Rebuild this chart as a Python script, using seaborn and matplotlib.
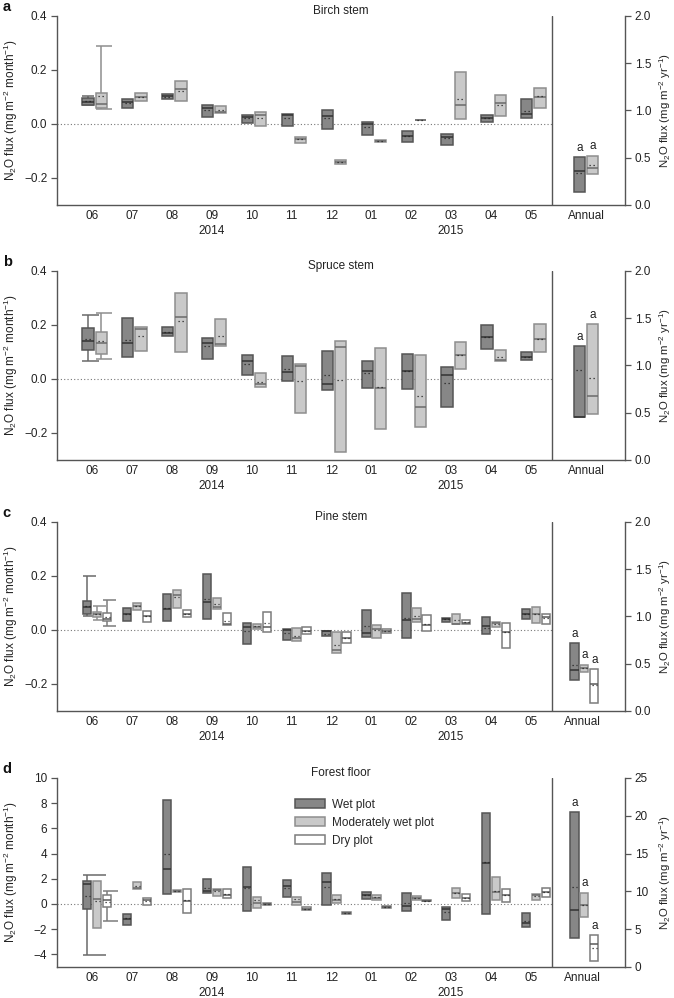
"""
Monthly and annual N2O fluxes from tree stems and forest floor
- boxes: interquartile range, solid line: median, dotted line: mean
"""

import numpy as np
import matplotlib
matplotlib.use("Agg")
import matplotlib.pyplot as plt
from matplotlib.patches import Patch
import seaborn as sns

# Labels
MONTHS = ["06", "07", "08", "09", "10", "11", "12", "01", "02", "03", "04", "05"]
YEARS = ["2014", "2015"]
YEAR_POS = [3, 9]
PLOTS = ["Wet plot", "Moderately wet plot", "Dry plot"]
TITLES = ["Birch stem", "Spruce stem", "Pine stem", "Forest floor"]
LETTERS = ["a", "b", "c", "d"]

# Monthly boxes per plot: (q1, q3, median, mean), mg m-2 month-1
birch_wet = [(0.070, 0.095, 0.080, 0.085), (0.058, 0.094, 0.083, 0.079), (0.091, 0.110, 0.102, 0.101),
             (0.025, 0.070, 0.060, 0.052), (0.002, 0.032, 0.025, 0.021), (-0.006, 0.038, 0.032, 0.021),
             (-0.017, 0.053, 0.028, 0.022), (-0.042, 0.006, -0.001, -0.012), (-0.065, -0.026, -0.044, -0.044),
             (-0.077, -0.037, -0.047, -0.052), (0.009, 0.033, 0.021, 0.021), (0.021, 0.091, 0.036, 0.049)]
birch_mod = [(0.058, 0.114, 0.075, 0.102), (0.086, 0.116, 0.099, 0.101), (0.084, 0.158, 0.131, 0.123),
             (0.042, 0.065, 0.046, 0.053), (-0.009, 0.043, 0.032, 0.023), (-0.070, -0.049, -0.057, -0.056),
             (-0.149, -0.132, -0.140, -0.140), (-0.068, -0.058, -0.062, -0.062), (0.013, 0.013, 0.013, 0.013),
             (0.020, 0.193, 0.069, 0.093), (0.030, 0.106, 0.077, 0.070), (0.059, 0.132, 0.101, 0.102)]

spruce_wet = [(0.106, 0.190, 0.140, 0.147), (0.083, 0.227, 0.135, 0.146), (0.159, 0.191, 0.170, 0.173),
              (0.075, 0.151, 0.133, 0.121), (0.014, 0.088, 0.068, 0.057), (-0.006, 0.086, 0.025, 0.036),
              (-0.041, 0.102, -0.019, 0.014), (-0.032, 0.067, 0.028, 0.022), (-0.037, 0.093, 0.030, 0.030),
              (-0.105, 0.043, 0.016, -0.015), (0.110, 0.199, 0.156, 0.156), (0.069, 0.099, 0.080, 0.080)]
spruce_mod = [(0.093, 0.173, 0.132, 0.140), (0.102, 0.191, 0.185, 0.158), (0.099, 0.317, 0.231, 0.215),
              (0.121, 0.221, 0.130, 0.158), (-0.028, 0.021, -0.020, -0.010), (-0.126, 0.056, 0.048, -0.007),
              (-0.272, 0.142, 0.119, -0.004), (-0.186, 0.115, -0.032, -0.030), (-0.177, 0.089, -0.104, -0.064),
              (0.036, 0.136, 0.089, 0.089), (0.065, 0.106, 0.072, 0.083), (0.099, 0.205, 0.149, 0.148)]

pine_wet = [(0.059, 0.106, 0.085, 0.090), (0.032, 0.080, 0.060, 0.059), (0.035, 0.132, 0.077, 0.083),
            (0.042, 0.206, 0.102, 0.116), (-0.051, 0.027, 0.010, -0.005), (-0.036, 0.002, 0.001, -0.011),
            (-0.023, -0.002, -0.005, -0.015), (-0.025, 0.074, -0.011, 0.014), (-0.031, 0.137, 0.036, 0.046),
            (0.031, 0.046, 0.040, 0.040), (-0.016, 0.047, 0.014, 0.006), (0.040, 0.077, 0.059, 0.059)]
pine_mod = [(0.047, 0.068, 0.059, 0.059), (0.073, 0.099, 0.090, 0.089), (0.080, 0.147, 0.130, 0.121),
            (0.078, 0.117, 0.086, 0.098), (0.005, 0.023, 0.011, 0.014), (-0.041, 0.006, -0.031, -0.021),
            (-0.085, -0.009, -0.074, -0.057), (-0.028, 0.017, 0.002, -0.001), (0.031, 0.080, 0.040, 0.053),
            (0.021, 0.060, 0.023, 0.036), (0.010, 0.031, 0.026, 0.022), (0.025, 0.084, 0.058, 0.058)]
pine_dry = [(0.033, 0.062, 0.042, 0.049), (0.030, 0.070, 0.051, 0.051), (0.049, 0.073, 0.060, 0.060),
            (0.017, 0.063, 0.022, 0.035), (-0.006, 0.065, 0.012, 0.025), (-0.016, 0.010, -0.002, -0.002),
            (-0.048, -0.009, -0.028, -0.028), (-0.011, 0.005, -0.004, -0.004), (-0.004, 0.056, 0.017, 0.023),
            (0.021, 0.036, 0.027, 0.028), (-0.068, 0.025, -0.006, -0.006), (0.023, 0.058, 0.047, 0.044)]

floor_wet = [(-0.37, 1.85, 1.59, 0.63), (-1.64, -0.82, -1.16, -1.11), (0.82, 8.23, 2.75, 3.94),
             (0.85, 1.96, 1.03, 1.27), (-0.58, 2.91, 1.32, 1.27), (0.58, 1.88, 1.43, 1.30),
             (-0.11, 2.43, 1.72, 1.35), (0.37, 0.95, 0.74, 0.74), (-0.58, 0.85, -0.19, 0.08),
             (-1.24, -0.24, -0.37, -0.61), (-0.79, 7.20, 3.25, 3.30), (-1.83, -0.74, -1.48, -1.38)]
floor_mod = [(-1.93, 1.85, 0.40, 0.26), (1.19, 1.75, 1.27, 1.40), (0.93, 1.08, 1.00, 1.00),
             (0.63, 1.22, 1.08, 1.00), (-0.29, 0.53, 0.10, 0.30), (-0.11, 0.58, 0.19, 0.40),
             (0.11, 0.69, 0.29, 0.42), (0.32, 0.71, 0.50, 0.53), (0.34, 0.63, 0.48, 0.48),
             (0.50, 1.30, 0.90, 0.90), (0.34, 2.14, 0.98, 1.03), (0.32, 0.79, 0.69, 0.63)]
floor_dry = [(-0.21, 0.69, 0.29, 0.16), (-0.11, 0.45, 0.32, 0.26), (-0.69, 1.22, 0.21, 0.32),
             (0.48, 1.16, 0.74, 0.79), (-0.11, 0.11, 0.00, 0.00), (-0.48, -0.26, -0.37, -0.37),
             (-0.79, -0.66, -0.72, -0.72), (-0.34, -0.19, -0.26, -0.26), (0.21, 0.29, 0.25, 0.25),
             (0.21, 0.77, 0.48, 0.50), (0.16, 1.16, 0.71, 0.71), (0.58, 1.24, 0.95, 0.95)]

# Annual boxes (q1, q3, median, mean), mg m-2 yr-1
birch_annual = [(0.138, 0.508, 0.363, 0.335), (0.325, 0.522, 0.395, 0.420)]
spruce_annual = [(0.458, 1.203, 0.460, 0.952), (0.487, 1.439, 0.677, 0.864)]
pine_annual = [(0.325, 0.716, 0.430, 0.487), (0.409, 0.490, 0.450, 0.455), (0.085, 0.441, 0.282, 0.272)]
floor_annual = [(3.84, 20.46, 7.54, 10.58), (6.65, 9.79, 8.24, 8.24), (0.79, 4.19, 3.00, 2.56)]

# June whiskers (low, high); None where no whisker is drawn
birch_june = [(0.069, 0.105), (0.057, 0.288)]
spruce_june = [(0.065, 0.237), (0.075, 0.246)]
pine_june = [(0.052, 0.201), (0.037, 0.089), (0.014, 0.112)]
floor_june = [(-4.02, 2.33), None, (-1.32, 1.00)]

# Significance letters above annual boxes
birch_letters = ["a", "a"]
spruce_letters = ["a", "a"]
pine_letters = ["a", "a", "a"]
floor_letters = ["a", "a", "a"]

# Styles
FILLS = ["#878787", "#c9c9c9", "#ffffff"]
EDGES = ["#555555", "#8e8e8e", "#7c7c7c"]
MEDS = ["#333333", "#6a6a6a", "#5a5a5a"]
SPINE = "#555555"
TEXT = "#222222"
XMIN, XMAX, SEP = -0.877, 13.36, 11.53

sns.set_style("ticks")
plt.rcParams["font.family"] = ["Liberation Sans", "DejaVu Sans"]
plt.rcParams["mathtext.fontset"] = "custom"
plt.rcParams["mathtext.rm"] = "Liberation Sans"
plt.rcParams["mathtext.it"] = "Liberation Sans:italic"
plt.rcParams["mathtext.bf"] = "Liberation Sans:bold"
plt.rcParams["font.size"] = 8.5


def draw_boxes(ax, xs, stats, width, k):
    """Interquartile box, median line and dotted mean line"""
    stats = np.asarray(stats, dtype=float)
    lo, hi, med, mean = stats.T
    ax.bar(xs, hi - lo, bottom=lo, width=width, color=FILLS[k],
           edgecolor=EDGES[k], linewidth=1.1, zorder=3)
    ax.hlines(med, xs - width / 2, xs + width / 2, color=MEDS[k], lw=1.1, zorder=4)
    ax.hlines(mean, xs - width * 0.3, xs + width * 0.3, color="#222222", lw=0.9,
              linestyles=(0, (1, 2.2)), zorder=4)


def draw_panel(ax, i, series, annual, june, letters, ylim, yticks, ylim2, yticks2,
               offsets, width, annual_x, caps):
    months = np.arange(len(MONTHS))
    ax2 = ax.twinx()

    for k, stats in enumerate(series):
        xs = months + offsets[k]
        # June whisker
        if june[k] is not None:
            lo, hi = june[k]
            x0 = xs[0]
            col = EDGES[k] if k else "#6a6a6a"
            ax.vlines(x0, lo, hi, color=col, lw=1.1, zorder=2)
            ax.hlines([lo, hi], x0 - width / 2, x0 - width / 2 + caps[k] * width,
                      color=col, lw=1.1, zorder=2)
        draw_boxes(ax, xs, stats, width, k)

        # annual box on the right axis
        xa = np.array([annual_x + offsets[k]])
        draw_boxes(ax2, xa, [annual[k]], width, k)
        ax2.annotate(letters[k], (xa[0], annual[k][1]), xytext=(0, 2.5),
                     textcoords="offset points", ha="center", va="bottom",
                     fontsize=8.5, color=TEXT)

    ax.plot([XMIN, SEP], [0, 0], ls=(0, (1, 2)), color="#777777", lw=0.8, zorder=1)
    ax.axvline(SEP, color=SPINE, lw=1.0)

    ax.set_xlim(XMIN, XMAX)
    ax.set_ylim(*ylim)
    ax.set_yticks(yticks)
    ax2.set_ylim(*ylim2)
    ax2.set_yticks(yticks2)

    ax.set_xticks(list(months) + [annual_x + 0.07])
    ax.set_xticklabels(MONTHS + ["Annual"])
    ax.tick_params(axis="x", length=0, pad=3.5, colors=TEXT)
    ax.tick_params(axis="y", length=4.5, width=0.9, pad=2.5, color=SPINE, labelcolor=TEXT)
    ax2.tick_params(axis="y", length=4.5, width=0.9, pad=2.5, color=SPINE, labelcolor=TEXT)

    for year, pos in zip(YEARS, YEAR_POS):
        ax.text(pos, -0.138, year, transform=ax.get_xaxis_transform(),
                ha="center", va="center", color=TEXT)

    for s in ["top", "right"]:
        ax.spines[s].set_visible(False)
    for s in ["top", "left", "bottom"]:
        ax2.spines[s].set_visible(False)
    for s in ["left", "bottom"]:
        ax.spines[s].set_color(SPINE)
        ax.spines[s].set_linewidth(1.0)
    ax2.spines["right"].set_color(SPINE)
    ax2.spines["right"].set_linewidth(1.0)

    ax.set_ylabel(r"N$_2$O flux (mg m$^{-2}$ month$^{-1}$)", color=TEXT)
    ax.yaxis.set_label_coords(-0.065, 0.5)
    ax2.set_ylabel(r"N$_2$O flux (mg m$^{-2}$ yr$^{-1}$)", color=TEXT, fontsize=8.2,
                   va="center")
    ax2.yaxis.set_label_coords(1.0705, 0.5)

    ax.text(0.5, 1.027, TITLES[i], transform=ax.transAxes, ha="center", va="center",
            color=TEXT)
    return ax2


fig = plt.figure(figsize=(6.74, 9.98), dpi=100)
bottoms = [0.7946, 0.5391, 0.2876, 0.0311]
axes = [fig.add_axes([0.0846, b, 0.8427, 0.1894]) for b in bottoms]

two = dict(offsets=[-0.10, 0.23], width=0.28, annual_x=12.32)
three = dict(offsets=[-0.12, 0.13, 0.38], width=0.21, annual_x=12.21)

draw_panel(axes[0], 0, [birch_wet, birch_mod], birch_annual, birch_june, birch_letters,
           (-0.3, 0.4), [-0.2, 0.0, 0.2, 0.4], (0, 2.0), [0, 0.5, 1.0, 1.5, 2.0],
           caps=[1.0, 1.45], **two)
draw_panel(axes[1], 1, [spruce_wet, spruce_mod], spruce_annual, spruce_june, spruce_letters,
           (-0.3, 0.4), [-0.2, 0.0, 0.2, 0.4], (0, 2.0), [0, 0.5, 1.0, 1.5, 2.0],
           caps=[1.5, 1.45], **two)
draw_panel(axes[2], 2, [pine_wet, pine_mod, pine_dry], pine_annual, pine_june, pine_letters,
           (-0.3, 0.4), [-0.2, 0.0, 0.2, 0.4], (0, 2.0), [0, 0.5, 1.0, 1.5, 2.0],
           caps=[1.6, 1.6, 1.6], **three)
draw_panel(axes[3], 3, [floor_wet, floor_mod, floor_dry], floor_annual, floor_june, floor_letters,
           (-5, 10), list(range(-4, 11, 2)), (0, 25), [0, 5, 10, 15, 20, 25],
           caps=[2.8, 1.6, 1.75], **three)

# Legend (forest floor)
handles = [Patch(facecolor=FILLS[k], edgecolor=EDGES[k], linewidth=1.1) for k in range(3)]
axes[3].legend(handles, PLOTS, loc="upper left", bbox_to_anchor=(0.419, 0.89),
               frameon=False, borderpad=0, borderaxespad=0, handlelength=2.5,
               handleheight=0.8, handletextpad=0.6, labelspacing=0.5, fontsize=8.5)

for letter, b in zip(LETTERS, bottoms):
    fig.text(0.004, b + 0.1894 + 0.0085, letter, fontsize=10.5, fontweight="bold",
             ha="left", va="center", color="#111111")

fig.savefig("out.png", dpi=100)
